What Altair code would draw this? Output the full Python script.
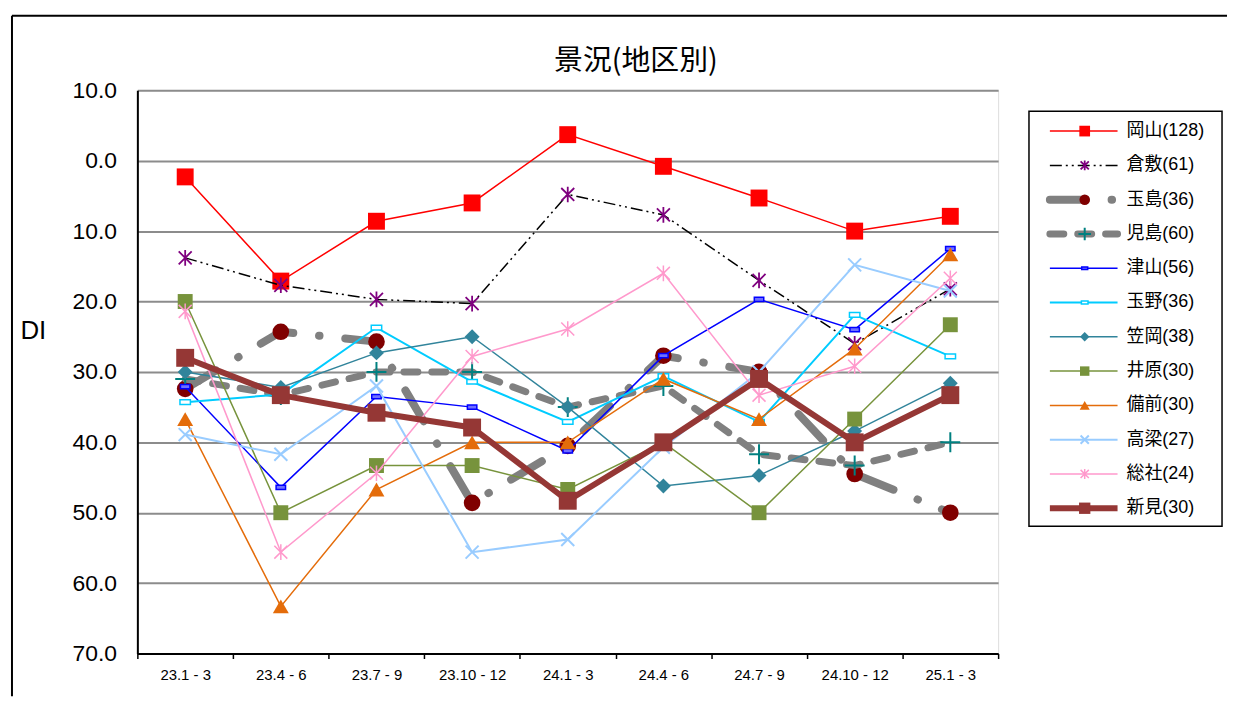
import altair as alt
import pandas as pd

# ---------------- data ----------------
periods = ["23.1 - 3", "23.4 - 6", "23.7 - 9", "23.10 - 12", "24.1 - 3",
           "24.4 - 6", "24.7 - 9", "24.10 - 12", "25.1 - 3"]
regions = ["岡山", "倉敷", "玉島", "児島", "津山", "玉野", "笠岡", "井原", "備前", "高梁", "総社", "新見"]
counts = [128, 61, 36, 60, 56, 36, 38, 30, 30, 27, 24, 30]

okayama = [-2.3, -17.1, -8.6, -6.0, 3.7, -0.8, -5.3, -10.0, -7.9]
kurashiki = [-13.8, -17.7, -19.7, -20.3, -4.8, -7.7, -17.0, -26.0, -18.2]
tamashima = [-32.4, -24.3, -25.7, -48.6, -40.5, -27.7, -30.0, -44.5, -50.0]
kojima = [-31.0, -33.3, -30.0, -30.0, -35.0, -32.0, -41.7, -43.3, -40.0]
tsuyama = [-32.1, -46.4, -33.5, -35.0, -41.2, -27.7, -19.7, -24.0, -12.5]
tamano = [-34.3, -33.2, -23.7, -31.4, -37.1, -30.6, -37.1, -21.9, -27.8]
kasaoka = [-30.0, -32.2, -27.3, -25.0, -35.0, -46.2, -44.7, -38.4, -31.6]
ibara = [-20.0, -50.0, -43.3, -43.3, -46.7, -40.0, -50.0, -36.7, -23.3]
bizen = [-36.7, -63.3, -46.7, -40.0, -40.0, -31.0, -36.7, -26.7, -13.3]
takahashi = [-38.9, -41.7, -32.0, -55.6, -53.8, -40.7, -30.0, -14.8, -18.5]
soja = [-21.4, -55.6, -44.4, -27.8, -23.9, -16.0, -33.3, -29.2, -16.7]
niimi = [-28.0, -33.3, -35.8, -37.9, -48.3, -40.0, -31.0, -40.0, -33.3]

series_values = [okayama, kurashiki, tamashima, kojima, tsuyama, tamano,
                 kasaoka, ibara, bizen, takahashi, soja, niimi]

rows = []
for r, vals in zip(regions, series_values):
    for p, v in zip(periods, vals):
        rows.append({"period": p, "region": r, "di": v})
df = pd.DataFrame(rows)
legend_df = pd.DataFrame({"region": regions,
                          "label": [f"{r}({n})" for r, n in zip(regions, counts)]})
one = pd.DataFrame({"k": [0]})

# ---------------- styles ----------------
ASTER = "M-1,-1L1,1M-1,1L1,-1M0,-1.2L0,1.2"
XMARK = "M-1,-1L1,1M-1,1L1,-1"
PLUS = "M-1,0L1,0M0,-1L0,1"
BAR = "M-1,-0.45L1,-0.45L1,0.45L-1,0.45Z"

styles = {
    "岡山": dict(line=dict(color="#FF0000", strokeWidth=1.5),
               pt=dict(shape="square", size=289, filled=True, color="#FF0000", strokeWidth=0)),
    "倉敷": dict(line=dict(color="#000000", strokeWidth=1.5, strokeDash=[12, 4, 2, 4, 2, 4]),
               pt=dict(shape=ASTER, size=170, filled=False, color="#7F007F", strokeWidth=1.8)),
    "玉島": dict(line=dict(color="#808080", strokeWidth=8, strokeDash=[36, 26, 0.5, 26], strokeCap="round"),
               pt=dict(shape="circle", size=280, filled=True, color="#800000", strokeWidth=0)),
    "児島": dict(line=dict(color="#808080", strokeWidth=7, strokeDash=[14, 14], strokeCap="round"),
               pt=dict(shape=PLUS, size=400, filled=False, color="#008080", strokeWidth=2)),
    "津山": dict(line=dict(color="#0000FF", strokeWidth=1.5),
               pt=dict(shape=BAR, size=90, filled=True, fill="#6F6FFF", stroke="#0000FF", strokeWidth=1.5)),
    "玉野": dict(line=dict(color="#00CCFF", strokeWidth=2),
               pt=dict(shape=BAR, size=110, filled=True, fill="#FFFFFF", stroke="#00CCFF", strokeWidth=1.5)),
    "笠岡": dict(line=dict(color="#31849B", strokeWidth=1.5),
               pt=dict(shape="diamond", size=225, filled=True, color="#31849B", strokeWidth=0)),
    "井原": dict(line=dict(color="#77933C", strokeWidth=1.5),
               pt=dict(shape="square", size=225, filled=True, color="#77933C", strokeWidth=0)),
    "備前": dict(line=dict(color="#E46C0A", strokeWidth=1.5),
               pt=dict(shape="triangle-up", size=256, filled=True, color="#E46C0A", strokeWidth=0)),
    "高梁": dict(line=dict(color="#99CCFF", strokeWidth=2),
               pt=dict(shape=XMARK, size=170, filled=False, color="#99CCFF", strokeWidth=2)),
    "総社": dict(line=dict(color="#FF99CC", strokeWidth=1.5),
               pt=dict(shape=ASTER, size=170, filled=False, color="#FF99CC", strokeWidth=1.5)),
    "新見": dict(line=dict(color="#953735", strokeWidth=6, strokeJoin="round"),
               pt=dict(shape="square", size=324, filled=True, color="#953735", strokeWidth=0)),
}

LATIN = "Liberation Sans"
MIXED = "Liberation Sans, Noto Sans CJK JP"

X = alt.X("period:N", sort=periods, bandPosition=0.5,
          scale=alt.Scale(type="band", paddingInner=0, paddingOuter=0),
          axis=alt.Axis(title=None, labelAngle=0, labelFont=LATIN, labelFontSize=15,
                        labelColor="black", labelPadding=9, tickBand="extent",
                        tickColor="black", tickSize=5, tickWidth=1.5,
                        domainColor="black", domainWidth=2, grid=False))
Y = alt.Y("di:Q", scale=alt.Scale(domain=[-70, 10], nice=False, zero=False),
          axis=alt.Axis(values=list(range(-70, 11, 10)),
                        labelExpr="format(abs(datum.value), '.1f')",
                        labelFont=LATIN, labelFontSize=23, labelColor="black",
                        labelPadding=21, ticks=False,
                        domainColor="black", domainWidth=2,
                        gridColor="#8C8C8C", gridWidth=2,
                        title="DI", titleAngle=0, titleFont=LATIN, titleFontSize=26,
                        titleFontWeight="normal", titleColor="black",
                        titleX=-105, titleY=241, titleAlign="center",
                        titleBaseline="middle"))

data_layers = []
for r in regions:
    st = styles[r]
    base = alt.Chart(df).transform_filter(alt.datum.region == r)
    data_layers.append(base.mark_line(**st["line"]).encode(x=X, y=Y))
    data_layers.append(base.mark_point(opacity=1, **st["pt"]).encode(x=X, y=Y))
plot = alt.layer(*data_layers)

# ---------------- legend ----------------
LY = alt.Y("region:N", sort=regions,
           scale=alt.Scale(type="point", range=[41, 420], padding=0), axis=None)
box = alt.Chart(one).mark_rect(fill="white", stroke="black", strokeWidth=1.5).encode(
    x=alt.value(896), x2=alt.value(1090), y=alt.value(21), y2=alt.value(438))
leg_layers = [box]
for r in regions:
    st = styles[r]
    base = alt.Chart(legend_df).transform_filter(alt.datum.region == r)
    lk = dict(st["line"])
    lk.pop("strokeJoin", None)
    leg_layers.append(base.mark_rule(**lk).encode(x=alt.value(917), x2=alt.value(985), y=LY))
    pk = dict(st["pt"])
    pk["size"] = pk["size"] * 0.4
    leg_layers.append(base.mark_point(opacity=1, **pk).encode(x=alt.value(952), y=LY))
leg_layers.append(
    alt.Chart(legend_df).mark_text(align="left", baseline="middle", font=MIXED,
                                   fontSize=18, color="black").encode(
        x=alt.value(994), y=LY, text="label:N"))
legend = alt.layer(*leg_layers)

# ---------------- frame & title ----------------
frame_left = alt.Chart(one).mark_rule(color="black", strokeWidth=2).encode(
    x=alt.value(-126), y=alt.value(-75), y2=alt.value(609))
frame_top = alt.Chart(one).mark_rule(color="black", strokeWidth=2).encode(
    x=alt.value(-126), x2=alt.value(1095), y=alt.value(-75))
title = alt.Chart(one).mark_text(font="Noto Sans CJK JP", fontSize=29, color="black",
                                 align="center", baseline="middle").encode(
    x=alt.value(501), y=alt.value(-29), text=alt.value("景況(地区別)"))

chart = alt.layer(frame_left, frame_top, title, plot, legend).resolve_scale(
    y="independent"
).properties(
    width=865, height=566,
    padding={"left": 3, "top": 5, "right": 0, "bottom": 0},
).configure_view(stroke="#8C8C8C", strokeWidth=2).configure(background="white")

chart.save("out.html", embed_options={"renderer": "svg", "actions": False})
